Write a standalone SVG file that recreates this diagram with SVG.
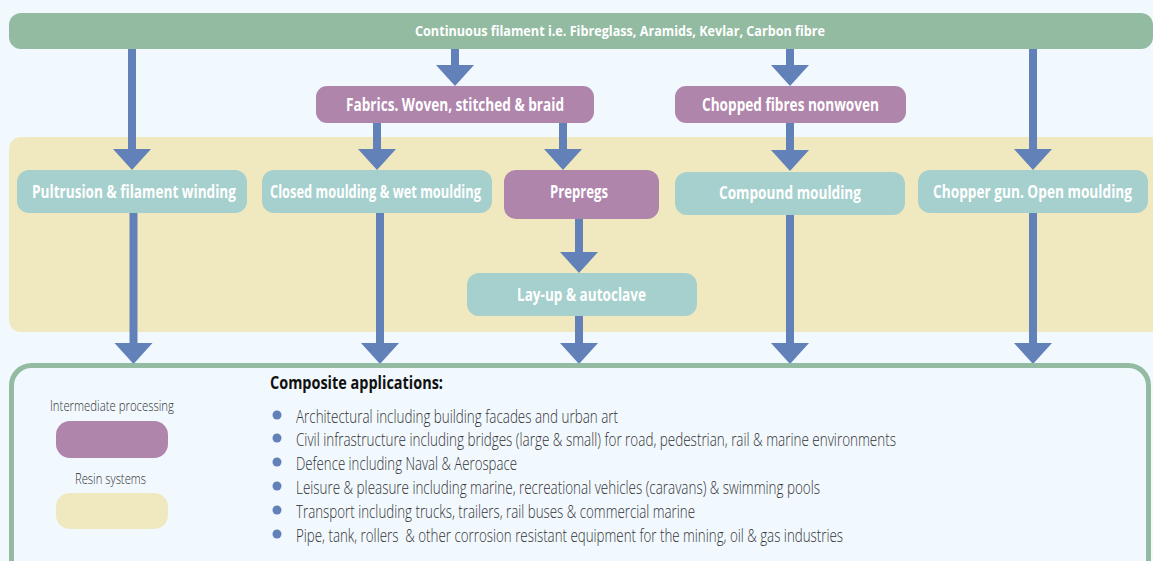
<svg xmlns="http://www.w3.org/2000/svg" width="1153" height="561" viewBox="0 0 1153 561">
<style>
.bg{fill:#F1F8FE}
.green{fill:#93BBA2}
.purple{fill:#B085AC}
.teal{fill:#A6D0CD}
.yellow{fill:#F0E8BF}
.arrow{fill:#6281B9}
.lbl{font-family:"Open Sans","Liberation Sans",sans-serif;font-weight:bold;fill:#ffffff;text-anchor:middle}
.lt{font-family:"Open Sans","Liberation Sans",sans-serif;font-weight:300;fill:#333333}
.dot{fill:#6281B9}
</style>
<rect class="bg" x="0" y="0" width="1153" height="561"/>
<g id="resin-band"><rect class="yellow" x="9" y="137" width="1160" height="195" rx="12"/></g>
<g id="top-bar">
<rect class="green" x="9" y="13" width="1144" height="36" rx="12"/>
<text class="lbl" x="620" y="36" font-size="15" textLength="410" lengthAdjust="spacingAndGlyphs">Continuous filament i.e. Fibreglass, Aramids, Kevlar, Carbon fibre</text>
</g>
<g id="connectors">
<path class="arrow" d="M128 49 H136 V149 H151 L132 170 L113 149 H128 Z"/>
<path class="arrow" d="M129.5 213 H137.5 V343 H152.5 L133.5 364 L114.5 343 H129.5 Z"/>
<path class="arrow" d="M373 123 H381 V149 H396 L377 170 L358 149 H373 Z"/>
<path class="arrow" d="M376 213 H384 V343 H399 L380 364 L361 343 H376 Z"/>
<path class="arrow" d="M559 123 H567 V149 H582 L563 170 L544 149 H559 Z"/>
<path class="arrow" d="M575 219 H583 V252 H598 L579 273 L560 252 H575 Z"/>
<path class="arrow" d="M575 316 H583 V343 H598 L579 364 L560 343 H575 Z"/>
<path class="arrow" d="M451 49 H459 V65 H474 L455 86 L436 65 H451 Z"/>
<path class="arrow" d="M786 49 H794 V65 H809 L790 86 L771 65 H786 Z"/>
<path class="arrow" d="M786 123 H794 V150 H809 L790 171 L771 150 H786 Z"/>
<path class="arrow" d="M786 215 H794 V343 H809 L790 364 L771 343 H786 Z"/>
<path class="arrow" d="M1029 49 H1037 V149 H1052 L1033 170 L1014 149 H1029 Z"/>
<path class="arrow" d="M1029 213 H1037 V343 H1052 L1033 364 L1014 343 H1029 Z"/>
</g>
<g id="fabrics">
<rect class="purple" x="316" y="86" width="278" height="37" rx="11"/>
<text class="lbl" x="455" y="111" font-size="17" textLength="218" lengthAdjust="spacingAndGlyphs">Fabrics. Woven, stitched &amp; braid</text>
</g>
<g id="chopped">
<rect class="purple" x="675" y="86" width="231" height="37" rx="11"/>
<text class="lbl" x="790.5" y="111" font-size="17" textLength="177" lengthAdjust="spacingAndGlyphs">Chopped fibres nonwoven</text>
</g>
<g id="pultrusion">
<rect class="teal" x="17" y="170" width="230" height="43" rx="12"/>
<text class="lbl" x="134" y="198" font-size="17" textLength="204" lengthAdjust="spacingAndGlyphs">Pultrusion &amp; filament winding</text>
</g>
<g id="closed">
<rect class="teal" x="262" y="170" width="230" height="43" rx="12"/>
<text class="lbl" x="375.5" y="198" font-size="17" textLength="211" lengthAdjust="spacingAndGlyphs">Closed moulding &amp; wet moulding</text>
</g>
<g id="prepregs">
<rect class="purple" x="504" y="170" width="155" height="49" rx="12"/>
<text class="lbl" x="579" y="198" font-size="17" textLength="58" lengthAdjust="spacingAndGlyphs">Prepregs</text>
</g>
<g id="layup">
<rect class="teal" x="467" y="273" width="230" height="43" rx="12"/>
<text class="lbl" x="581.5" y="301" font-size="17" textLength="129" lengthAdjust="spacingAndGlyphs">Lay-up &amp; autoclave</text>
</g>
<g id="compound">
<rect class="teal" x="675" y="172" width="230" height="43" rx="12"/>
<text class="lbl" x="790" y="199" font-size="17" textLength="142" lengthAdjust="spacingAndGlyphs">Compound moulding</text>
</g>
<g id="chopper">
<rect class="teal" x="918" y="170" width="230" height="43" rx="12"/>
<text class="lbl" x="1032.5" y="198" font-size="17" textLength="199" lengthAdjust="spacingAndGlyphs">Chopper gun. Open moulding</text>
</g>
<g id="applications">
<rect x="11.5" y="365.5" width="1137" height="240" rx="20" fill="#F1F8FE" stroke="#93BBA2" stroke-width="5"/>
<text x="112" y="411" class="lt" font-size="15" text-anchor="middle" textLength="124" lengthAdjust="spacingAndGlyphs">Intermediate processing</text>
<rect class="purple" x="56" y="421" width="112" height="37" rx="14"/>
<text x="110.5" y="484" class="lt" font-size="15" text-anchor="middle" textLength="71" lengthAdjust="spacingAndGlyphs">Resin systems</text>
<rect class="yellow" x="56" y="493" width="112" height="36" rx="14"/>
<text x="270" y="389" font-family="'Open Sans','Liberation Sans',sans-serif" font-weight="bold" font-size="18" fill="#111111" textLength="173" lengthAdjust="spacingAndGlyphs">Composite applications:</text>
<circle class="dot" cx="277" cy="415" r="4.5"/>
<circle class="dot" cx="277" cy="438" r="4.5"/>
<circle class="dot" cx="277" cy="462" r="4.5"/>
<circle class="dot" cx="277" cy="486" r="4.5"/>
<circle class="dot" cx="277" cy="510" r="4.5"/>
<circle class="dot" cx="277" cy="534" r="4.5"/>
<text class="lt" x="296" y="423" font-size="19" textLength="322" lengthAdjust="spacingAndGlyphs">Architectural including building facades and urban art</text>
<text class="lt" x="296" y="446" font-size="19" textLength="600" lengthAdjust="spacingAndGlyphs">Civil infrastructure including bridges (large &amp; small) for road, pedestrian, rail &amp; marine environments</text>
<text class="lt" x="296" y="470" font-size="19" textLength="221" lengthAdjust="spacingAndGlyphs">Defence including Naval &amp; Aerospace</text>
<text class="lt" x="296" y="494" font-size="19" textLength="524" lengthAdjust="spacingAndGlyphs">Leisure &amp; pleasure including marine, recreational vehicles (caravans) &amp; swimming pools</text>
<text class="lt" x="296" y="518" font-size="19" textLength="399" lengthAdjust="spacingAndGlyphs">Transport including trucks, trailers, rail buses &amp; commercial marine</text>
<text class="lt" x="296" y="542" font-size="19" textLength="547" lengthAdjust="spacingAndGlyphs" xml:space="preserve">Pipe, tank, rollers  &amp; other corrosion resistant equipment for the mining, oil &amp; gas industries</text>
</g>
</svg>
